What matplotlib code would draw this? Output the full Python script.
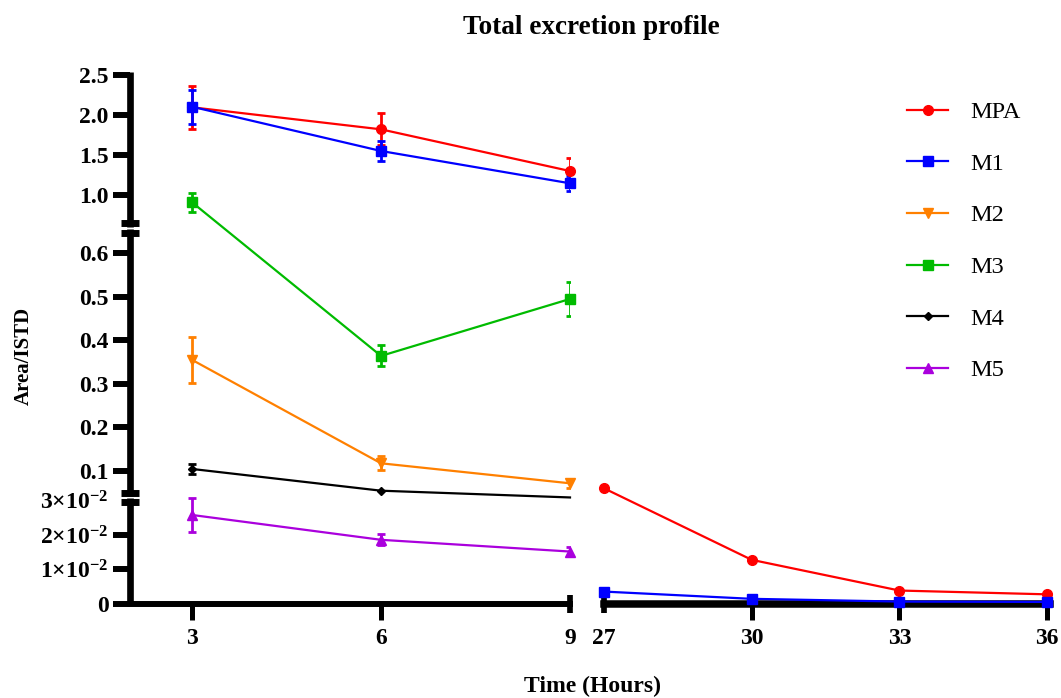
import numpy as np
import matplotlib
matplotlib.use('Agg')
import matplotlib.pyplot as plt
from matplotlib.lines import Line2D

plt.rcParams['font.family'] = 'Liberation Serif'
plt.rcParams['mathtext.fontset'] = 'custom'
plt.rcParams['mathtext.rm'] = 'Liberation Serif:bold'
plt.rcParams['mathtext.it'] = 'Liberation Serif:bold'
plt.rcParams['mathtext.bf'] = 'Liberation Serif:bold'

# donnees
t_early = [3, 6, 9]
t_late = [27, 30, 33, 36]

mpa_early = [2.10, 1.825, 1.305]
mpa_early_err = [0.27, 0.20, 0.16]
mpa_late = [0.0595, 0.0128, 0.0039, 0.0028]

m1_early = [2.107, 1.555, 1.152]
m1_early_err = [0.21, 0.12, 0.09]
m1_late = [0.0036, 0.0015, 0.0007, 0.0006]

m2 = [0.355, 0.117, 0.071]
m2_err = [0.053, 0.016, 0.010]
m3 = [0.926, 0.364, 0.495]
m3_err = [0.11, 0.024, 0.039]
m4 = [0.104, 0.054, 0.035]
m4_err = [0.012, 0, 0]
m5 = [0.0258, 0.0186, 0.0152]
m5_err = [0.0048, 0.0016, 0.0013]

names = ['MPA', 'M1', 'M2', 'M3', 'M4', 'M5']
colors = ['#FF0000', '#0000FF', '#FF8000', '#00BB00', '#000000', '#AA00DD']
markers = ['o', 's', 'v', 's', 'D', '^']
msizes = [7, 7.5, 7.5, 6.5, 4, 7]

yticks = [0, 0.01, 0.02, 0.03, 0.1, 0.2, 0.3, 0.4, 0.5, 0.6, 1.0, 1.5, 2.0, 2.5]
ylabels = ['0', '1×10$^{-2}$', '2×10$^{-2}$', '3×10$^{-2}$', '0.1', '0.2', '0.3',
           '0.4', '0.5', '0.6', '1.0', '1.5', '2.0', '2.5']

# axe y coupe en 3 morceaux (echelle lineaire par morceaux)
seg_val = [0, 0.0306, 0.0418, 0.655, 0.66, 1.0, 2.6]
seg_pos = [0, 105.6, 108.0, 374.6, 377.3, 408.5, 536.8]


def fwd(v):
    return np.interp(v, seg_val, seg_pos)


def inv(u):
    return np.interp(u, seg_pos, seg_val)


W, H = 1061, 698
fig = plt.figure(figsize=(W / 100, H / 100), dpi=100)
axL = fig.add_axes([130 / W, (H - 604) / H, 440 / W, 531.6 / H])
axR = fig.add_axes([604 / W, (H - 604) / H, 446 / W, 531.6 / H])

for ax in (axL, axR):
    ax.set_yscale('function', functions=(fwd, inv))
    ax.set_ylim(0, 2.535)
    ax.spines['top'].set_visible(False)
    ax.spines['right'].set_visible(False)
    ax.spines['left'].set_visible(False)

axL.set_xlim(2.016, 9)
axR.set_xlim(27, 36.06)


def draw(ax, x, y, err, i, every=None):
    ax.plot(x, y, '-', color=colors[i], lw=1.6, marker=markers[i], ms=msizes[i],
            markevery=every, zorder=5, clip_on=False)
    if err is not None:
        xe = [a for a, e in zip(x, err) if e > 0]
        ye = [b for b, e in zip(y, err) if e > 0]
        ee = [e for e in err if e > 0]
        ax.errorbar(xe, ye, yerr=ee, fmt='none', ecolor=colors[i], elinewidth=2,
                    capsize=3.2, capthick=2, zorder=4)


draw(axL, t_early, mpa_early, mpa_early_err, 0)
draw(axL, t_early, m1_early, m1_early_err, 1)
draw(axL, t_early, m2, m2_err, 2)
draw(axL, t_early, m3, m3_err, 3)
draw(axL, t_early, m4, m4_err, 4, every=[0, 1])
draw(axL, t_early, m5, m5_err, 5)
draw(axR, t_late, mpa_late, None, 0)
draw(axR, t_late, m1_late, None, 1)

# ticks
axL.set_yticks(yticks)
axL.set_yticklabels(ylabels, fontweight='bold')
axL.tick_params(axis='y', direction='out', length=12.5, width=4.3, labelsize=17, pad=3)
axL.yaxis.get_major_ticks()[3].tick1line.set_visible(False)

axL.set_xticks(t_early)
axL.set_xticklabels([str(t) for t in t_early], fontweight='bold')
axR.set_xticks(t_late)
axR.set_xticklabels([str(t) for t in t_late], fontweight='bold')
for ax in (axL, axR):
    ax.tick_params(axis='x', direction='out', length=11.5, width=3.6, labelsize=17, pad=6)
axR.tick_params(axis='y', left=False, labelleft=False)
axL.xaxis.get_major_ticks()[-1].tick1line.set_visible(False)
axR.xaxis.get_major_ticks()[0].tick1line.set_visible(False)

axL.spines['bottom'].set_linewidth(4.3)
axR.spines['bottom'].set_linewidth(5.4)

# morceaux de l'axe y + coupures
ytr = axL.get_yaxis_transform()
for v0, v1 in [(0, seg_val[1]), (seg_val[2], seg_val[3]), (seg_val[4], 2.535)]:
    axL.plot([0, 0], [v0, v1], transform=ytr, color='k', lw=4.8,
             solid_capstyle='butt', clip_on=False, zorder=3)
caps = [seg_pos[1] - 3.4, seg_pos[2] + 3.4, seg_pos[3] - 3.6, seg_pos[4] + 3.8]
axL.plot([0] * 4, inv(np.array(caps)), ls='none', marker='_', ms=13.4, mew=5,
         color='k', transform=ytr, clip_on=False, zorder=3)

# bouts de l'axe x coupe
axL.plot([axL.get_xlim()[1]], [0], marker='|', ms=13, mew=4.1, color='k',
         transform=axL.get_xaxis_transform(), clip_on=False, zorder=3)
axR.plot([axR.get_xlim()[0]], [0], marker='|', ms=13, mew=4.1, color='k',
         transform=axR.get_xaxis_transform(), clip_on=False, zorder=3)

# textes
fig.text(591.5 / W, 1 - 27 / H, 'Total excretion profile', ha='center', va='center',
         fontsize=19.6, fontweight='bold')
fig.text(592 / W, 1 - 686 / H, 'Time (Hours)', ha='center', va='center',
         fontsize=17, fontweight='bold')
fig.text(24 / W, 1 - 356 / H, 'Area/ISTD', ha='center', va='center', rotation=90,
         fontsize=15, fontweight='bold')

handles = [Line2D([], [], color=colors[i], lw=1.6, marker=markers[i], ms=msizes[i])
           for i in range(len(names))]
fig.legend(handles, names, loc='upper left', bbox_to_anchor=(907 / W, 1 - 101 / H),
           frameon=False, fontsize=17.5, handlelength=1.69, handletextpad=0.93,
           labelspacing=1.22, borderpad=0, borderaxespad=0)

fig.savefig('out.png', dpi=100)
